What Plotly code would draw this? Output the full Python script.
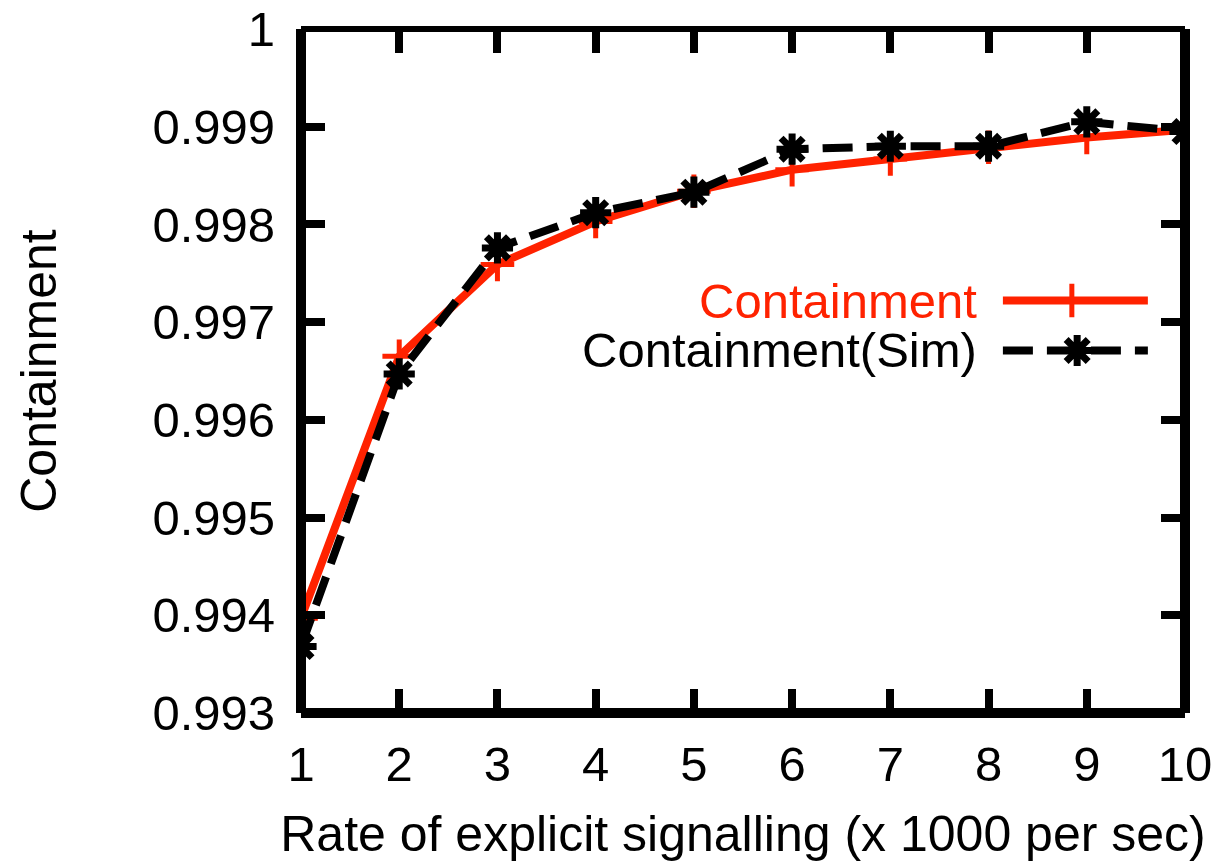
import plotly.graph_objects as go

rate = [1, 2, 3, 4, 5, 6, 7, 8, 9, 10]
containment = [0.99397, 0.99665, 0.99759, 0.99803, 0.99834, 0.99856, 0.99867, 0.99879, 0.99889, 0.99897]
containment_sim = [0.99368, 0.99647, 0.99776, 0.99812, 0.99833, 0.99877, 0.99880, 0.99880, 0.99905, 0.99895]
ytick_vals = [0.993, 0.994, 0.995, 0.996, 0.997, 0.998, 0.999, 1.0]
ytick_text = ["0.993", "0.994", "0.995", "0.996", "0.997", "0.998", "0.999", "1"]
xtick_vals = [1, 2, 3, 4, 5, 6, 7, 8, 9, 10]
legend_names = ["Containment", "Containment(Sim)"]

RED = "#ff2200"
FONT = "Liberation Sans, Arial, sans-serif"

red_marker = dict(symbol="cross-thin-open", size=24, color=RED, line=dict(color=RED, width=5))
blk_marker = dict(symbol="asterisk-open", size=26, color="black", line=dict(color="black", width=7))

fig = go.Figure()
fig.add_trace(go.Scatter(
    x=rate, y=containment, mode="lines+markers", name=legend_names[0],
    line=dict(color=RED, width=8), marker=red_marker, showlegend=False))
fig.add_trace(go.Scatter(
    x=rate, y=containment_sim, mode="lines+markers", name=legend_names[1],
    line=dict(color="black", width=8, dash="30px,14px"), marker=blk_marker, showlegend=False))

# manual legend (samples on an overlay axis in 0..1 units)
LY1, LY2 = 0.603, 0.530
fig.add_trace(go.Scatter(x=[0.794, 0.958], y=[LY1, LY1], mode="lines", xaxis="x2", yaxis="y2",
                         line=dict(color=RED, width=8), showlegend=False, hoverinfo="skip"))
fig.add_trace(go.Scatter(x=[0.872], y=[LY1], mode="markers", xaxis="x2", yaxis="y2",
                         marker=red_marker, showlegend=False, hoverinfo="skip"))
fig.add_trace(go.Scatter(x=[0.794, 0.958], y=[LY2, LY2], mode="lines", xaxis="x2", yaxis="y2",
                         line=dict(color="black", width=8, dash="30px,14px"), showlegend=False, hoverinfo="skip"))
fig.add_trace(go.Scatter(x=[0.878], y=[LY2], mode="markers", xaxis="x2", yaxis="y2",
                         marker=blk_marker, showlegend=False, hoverinfo="skip"))

fig.add_annotation(x=0.7665, y=LY1, xref="x2", yref="y2", text=legend_names[0], showarrow=False,
                   xanchor="right", yanchor="middle", font=dict(family=FONT, size=49, color=RED))
fig.add_annotation(x=0.7665, y=LY2, xref="x2", yref="y2", text=legend_names[1], showarrow=False,
                   xanchor="right", yanchor="middle", font=dict(family=FONT, size=49, color="black"))

# frame centred on the plot-area edges (top edge thinner, as in the reference)
for (x0, y0, x1, y1, w) in [(0, 0, 1, 0, 10), (0, 0, 0, 1, 10), (1, 0, 1, 1, 10), (0, 1, 1, 1, 6)]:
    fig.add_shape(type="line", xref="paper", yref="paper", x0=x0, y0=y0, x1=x1, y1=y1,
                  line=dict(color="black", width=w), layer="above")

axis_common = dict(showline=False, mirror="allticks", automargin=False,
                   ticks="inside", ticklen=24, tickwidth=8, tickcolor="black",
                   showgrid=False, zeroline=False,
                   tickfont=dict(family=FONT, size=49, color="black"))

fig.update_layout(
    width=1218, height=864,
    margin=dict(l=301, r=33, t=29, b=151),
    paper_bgcolor="white", plot_bgcolor="white",
    xaxis=dict(range=[1, 10], tickvals=xtick_vals, ticklabelstandoff=18,
               title=dict(text="Rate of explicit signalling (x 1000 per sec)",
                          font=dict(family=FONT, size=50, color="black"), standoff=25),
               **axis_common),
    yaxis=dict(range=[0.993, 1.0], tickvals=ytick_vals, ticktext=ytick_text, ticklabelstandoff=25,
               title=dict(text="Containment", font=dict(family=FONT, size=50, color="black"), standoff=79),
               **axis_common),
    xaxis2=dict(overlaying="x", range=[0, 1], visible=False),
    yaxis2=dict(overlaying="y", range=[0, 1], visible=False),
)

fig.write_html("out.html")
